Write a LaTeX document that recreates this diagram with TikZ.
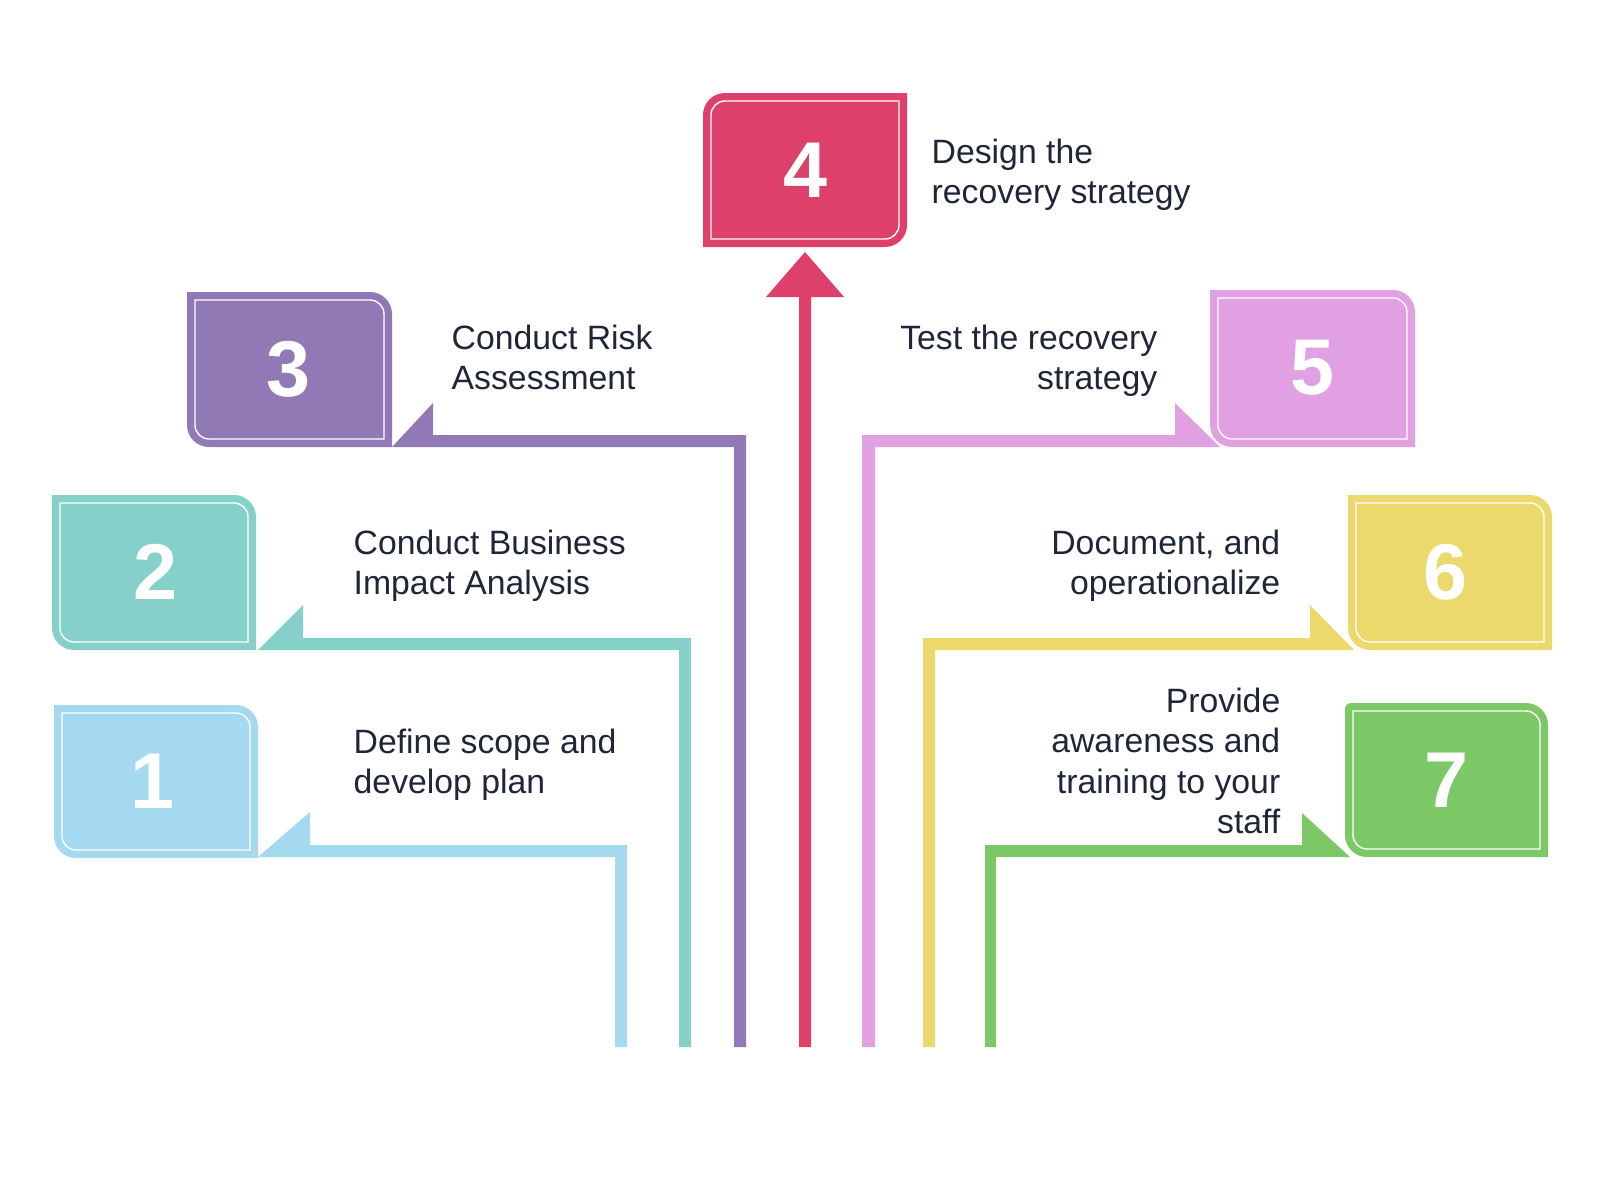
\documentclass[tikz,border=0pt]{standalone}
\usepackage{fontspec}
\setmainfont{Liberation Sans}
\definecolor{skyc}{HTML}{A4D9EF}
\definecolor{tealc}{HTML}{85D1C9}
\definecolor{lilac}{HTML}{9179B5}
\definecolor{rosec}{HTML}{DD406B}
\definecolor{orchid}{HTML}{E0A0E2}
\definecolor{sandc}{HTML}{ECD96C}
\definecolor{leafc}{HTML}{7CC866}
\definecolor{ink}{HTML}{1E2638}

\newcommand{\cardpath}[8]{({#1+#5},{#2}) -- ({#3-#6},{#2}) arc[start angle=270, end angle=360, radius={#6}]
	-- ({#3},{#4-#7}) arc[start angle=0, end angle=90, radius={#7}]
	-- ({#1+#8},{#4}) arc[start angle=90, end angle=180, radius={#8}]
	-- ({#1},{#2+#5}) arc[start angle=180, end angle=270, radius={#5}] -- cycle}
\newcommand{\card}[9]{%
	\fill[#1] \cardpath{#2}{#3}{#4}{#5}{#6}{#7}{#8}{#9};
	\draw[rim] \cardpath{#2+8}{#3+8}{#4-8}{#5-8}{max(#6-8,0.01)}{max(#7-8,0.01)}{max(#8-8,0.01)}{max(#9-8,0.01)};}

\begin{document}
\begin{tikzpicture}[x=0.01cm, y=-0.01cm,
	lbl/.style={inner sep=0, text=ink, font=\fontsize{9.6}{11.5}\selectfont},
	num/.style={inner sep=0, text=white, font=\fontsize{22.5}{22.5}\selectfont\bfseries},
	rim/.style={draw=white, line width=0.4pt}]
	\def\R{22}
	\def\S{0.01}
	\def\foot{1047}

	\useasboundingbox (0,0) rectangle (1600,1200);

	\fill[skyc]		(615,\foot) |- (310,857) -- (258,857) -- (310,812) |- (627,845) -- (627,\foot) -- cycle;
	\fill[tealc]		(679,\foot) |- (303,650) -- (258,650) -- (303,605) |- (691,638) -- (691,\foot) -- cycle;
	\fill[lilac]		(734,\foot) |- (433,447) -- (392,447) -- (433,403) |- (746,435) -- (746,\foot) -- cycle;
	\fill[rosec]		(799,\foot) -- (799,297) -- (766,297) -- (805,252) -- (844,297) -- (811,297) -- (811,\foot) -- cycle;
	\fill[orchid]	(875,\foot) |- (1175,447) -- (1220,447) -- (1175,403) |- (862,435) -- (862,\foot) -- cycle;
	\fill[sandc]		(935,\foot) |- (1310,650) -- (1354,650) -- (1310,605) |- (923,638) -- (923,\foot) -- cycle;
	\fill[leafc]		(996,\foot) |- (1302,857) -- (1350,857) -- (1302,813) |- (985,845) -- (985,\foot) -- cycle;

	\card{skyc}{54}{705}{258}{858}{\S}{\R}{\S}{\R}
	\card{tealc}{52}{495}{256}{650}{\S}{\R}{\S}{\R}
	\card{lilac}{187}{292}{392}{447}{\S}{\R}{\S}{\R}
	\card{rosec}{703}{93}{907}{247}{\R}{\S}{\R}{\S}
	\card{orchid}{1210}{290}{1415}{447}{\S}{\R}{\S}{\R}
	\card{sandc}{1348}{495}{1552}{650}{\S}{\R}{\S}{\R}
	\card{leafc}{1345}{703}{1548}{857}{6}{\R}{\S}{\R}

	\node[num] (n1) at (153,781) {1};
	\node[num] (n2) at (156,572) {2};
	\node[num] (n3) at (289,369) {3};
	\node[num] (n4) at (805,170) {4};
	\node[num] (n5) at (1312,368) {5};
	\node[num] (n6) at (1445,572) {6};
	\node[num] (n7) at (1446,780) {7};

	\node[lbl, anchor=north west, align=left] (t1) at (353,728) {Define scope and\\develop plan};
	\node[lbl, anchor=north west, align=left] (t2) at (353,529) {Conduct Business\\Impact Analysis};
	\node[lbl, anchor=north west, align=left] (t3) at (451,324) {Conduct Risk\\Assessment};
	\node[lbl, anchor=north west, align=left] (t4) at (931,138) {Design the\\recovery strategy};
	\node[lbl, anchor=north east, align=right] (t5) at (1158,324) {Test the recovery\\strategy};
	\node[lbl, anchor=north east, align=right] (t6) at (1281,529) {Document, and\\operationalize};
	\node[lbl, anchor=north east, align=right] (t7) at (1281,687) {Provide\\awareness and\\training to your\\staff};
\end{tikzpicture}
\end{document}
